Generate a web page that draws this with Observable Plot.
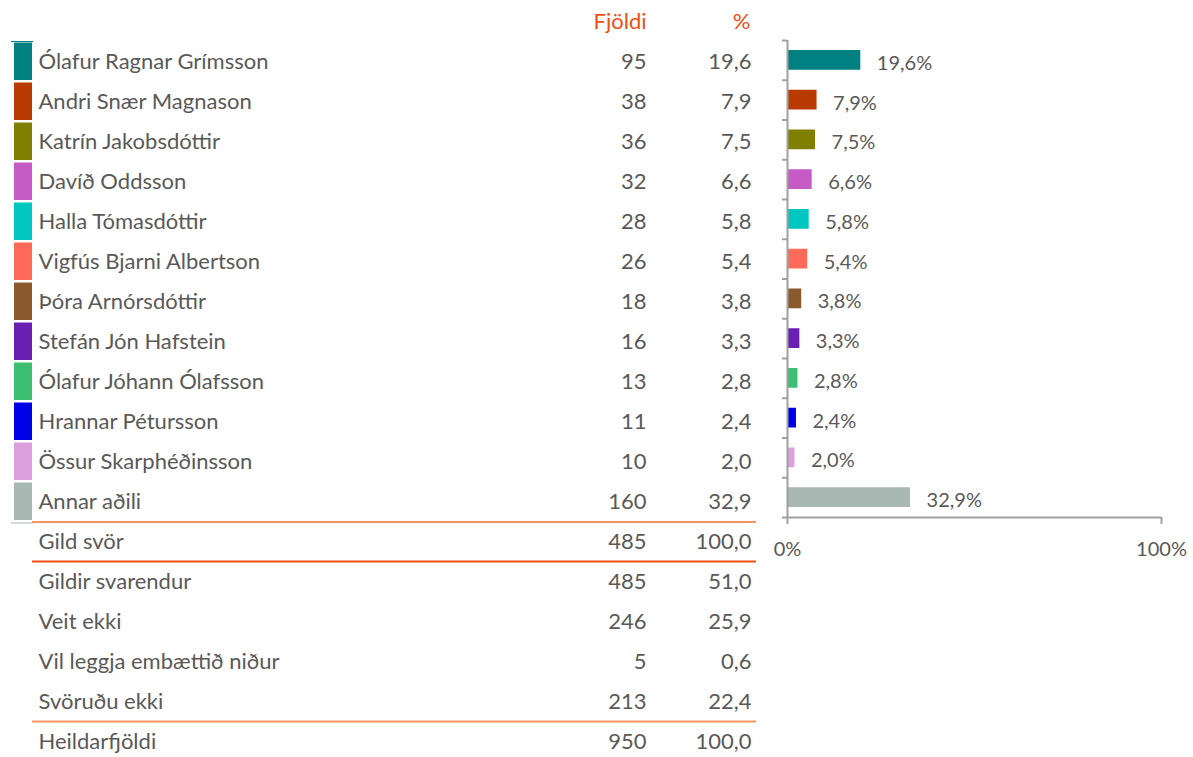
<!DOCTYPE html>
<html><head><meta charset="utf-8">
<script src="https://cdn.jsdelivr.net/npm/d3@7"></script>
<script src="https://cdn.jsdelivr.net/npm/@observablehq/plot@0.6"></script>
<style>
body{margin:0;background:#fff;}
#chart{display:flex;flex-direction:row;width:1193px;height:757px;}
#chart svg{display:block;flex:none;}
</style></head><body><div id="chart"></div>
<script>
// ---- data ----
const candidates = ["Ólafur Ragnar Grímsson","Andri Snær Magnason","Katrín Jakobsdóttir","Davíð Oddsson","Halla Tómasdóttir","Vigfús Bjarni Albertson","Þóra Arnórsdóttir","Stefán Jón Hafstein","Ólafur Jóhann Ólafsson","Hrannar Pétursson","Össur Skarphéðinsson","Annar aðili"];
const counts = [95,38,36,32,28,26,18,16,13,11,10,160];
const percents = [19.6,7.9,7.5,6.6,5.8,5.4,3.8,3.3,2.8,2.4,2.0,32.9];
const summaryLabels = ["Gild svör","Gildir svarendur","Veit ekki","Vil leggja embættið niður","Svöruðu ekki","Heildarfjöldi"];
const summaryCounts = [485,485,246,5,213,950];
const summaryPercents = [100.0,51.0,25.9,0.6,22.4,100.0];
const headers = ["Fjöldi","%"];
const axisTicks = [0,100];
const palette = ["#008080","#B83A00","#808000","#C65BC6","#00C8C0","#FF6A59","#8A5A2D","#6A1FB3","#3DBF72","#0000E6","#DDA0DF","#A9B8B3"];

// ---- style ----
const FONT = "Lato, sans-serif";
const TEXT = "#595959";
const ORANGE = "#F04E12";
const LIGHT_ORANGE = "#F79361";
const AXIS = "#A0A0A0";
const fmt = v => v.toFixed(1).replace(".", ",");

const candRows = candidates.map((name,i)=>({key:name, name, count:counts[i], pct:percents[i], color:palette[i], i}));
const sumRows = summaryLabels.map((name,i)=>({key:name, name, count:summaryCounts[i], pct:summaryPercents[i]}));
const tableRows = [...candRows, ...sumRows];
const rowKeys = ["__header", ...tableRows.map(d=>d.key)];
const textStyle = {fill: TEXT, fontSize: 22, fontFamily: FONT};

const table = Plot.plot({
  width:770, height:757, margin:0,
  style:{background:"transparent", fontFamily:FONT},
  x:{type:"identity", axis:null},
  y:{type:"band", domain:rowKeys, range:[1, 1 + 40*rowKeys.length], padding:0, axis:null},
  color:{type:"identity"},
  marks:[
    Plot.barX(candRows, {x1:14, x2:32, y:"key", fill:"color", insetTop:1.5, insetBottom:1}),
    Plot.ruleX(candRows, {x:11.5, y:"key", stroke:"color", strokeWidth:1}),
    Plot.ruleY([candidates[0]], {y:d=>d, dy:-20, x1:11, x2:33, stroke:palette[0], strokeWidth:1}),
    Plot.ruleY([candidates[candidates.length-1]], {y:d=>d, dy:21.5, x1:11, x2:33, stroke:palette[palette.length-1], strokeWidth:1}),
    Plot.text(tableRows, {x:38, y:"key", text:"name", textAnchor:"start", ...textStyle}),
    Plot.text(tableRows, {x:646, y:"key", text:d=>String(d.count), textAnchor:"end", ...textStyle}),
    Plot.text(tableRows, {x:751, y:"key", text:d=>fmt(d.pct), textAnchor:"end", ...textStyle}),
    Plot.text([headers[0]], {x:646, y:()=>"__header", text:d=>d, textAnchor:"end", fill:ORANGE, fontSize:22}),
    Plot.text([headers[1]], {x:750, y:()=>"__header", text:d=>d, textAnchor:"end", fill:ORANGE, fontSize:22}),
    Plot.ruleY([candidates[candidates.length-1]], {y:d=>d, dy:20.5, x1:32, x2:756, stroke:LIGHT_ORANGE, strokeWidth:2}),
    Plot.ruleY([summaryLabels[0]], {y:d=>d, dy:20, x1:32, x2:756, stroke:ORANGE, strokeWidth:2}),
    Plot.ruleY([summaryLabels[summaryLabels.length-2]], {y:d=>d, dy:20, x1:32, x2:756, stroke:LIGHT_ORANGE, strokeWidth:2})
  ]
});

const n = candidates.length;
const bars = Plot.plot({
  width:423, height:757,
  marginLeft:17, marginRight:32, marginTop:40, marginBottom:240,
  style:{background:"transparent", fontFamily:FONT, fontSize:"20px"},
  x:{domain:[0,100], label:null},
  y:{domain:[0,n], reverse:true, axis:null, label:null},
  color:{type:"identity"},
  marks:[
    Plot.rectX(candRows, {x1:0, x2:"pct", y1:"i", y2:d=>d.i+1, fill:"color", insetTop:10, insetBottom:10}),
    Plot.text(candRows, {x:"pct", y:d=>d.i+0.5, text:d=>fmt(d.pct)+"%", dx:16, dy:3, textAnchor:"start", fill:TEXT, fontSize:20}),
    Plot.ruleY(d3.range(0,n+1), {x1:0, x2:0, insetLeft:-5, stroke:AXIS, strokeWidth:2}),
    Plot.ruleX([0], {y1:0, y2:n, stroke:AXIS, strokeWidth:2}),
    Plot.ruleY([n], {x1:0, x2:100, stroke:AXIS, strokeWidth:2}),
    Plot.axisX({ticks:axisTicks, tickSize:7, tickPadding:17, tickFormat:d=>d+"%", label:null, stroke:AXIS, strokeWidth:2, fill:TEXT, fontSize:20})
  ]
});

const chart = document.getElementById("chart");
chart.appendChild(table);
chart.appendChild(bars);
</script></body></html>
